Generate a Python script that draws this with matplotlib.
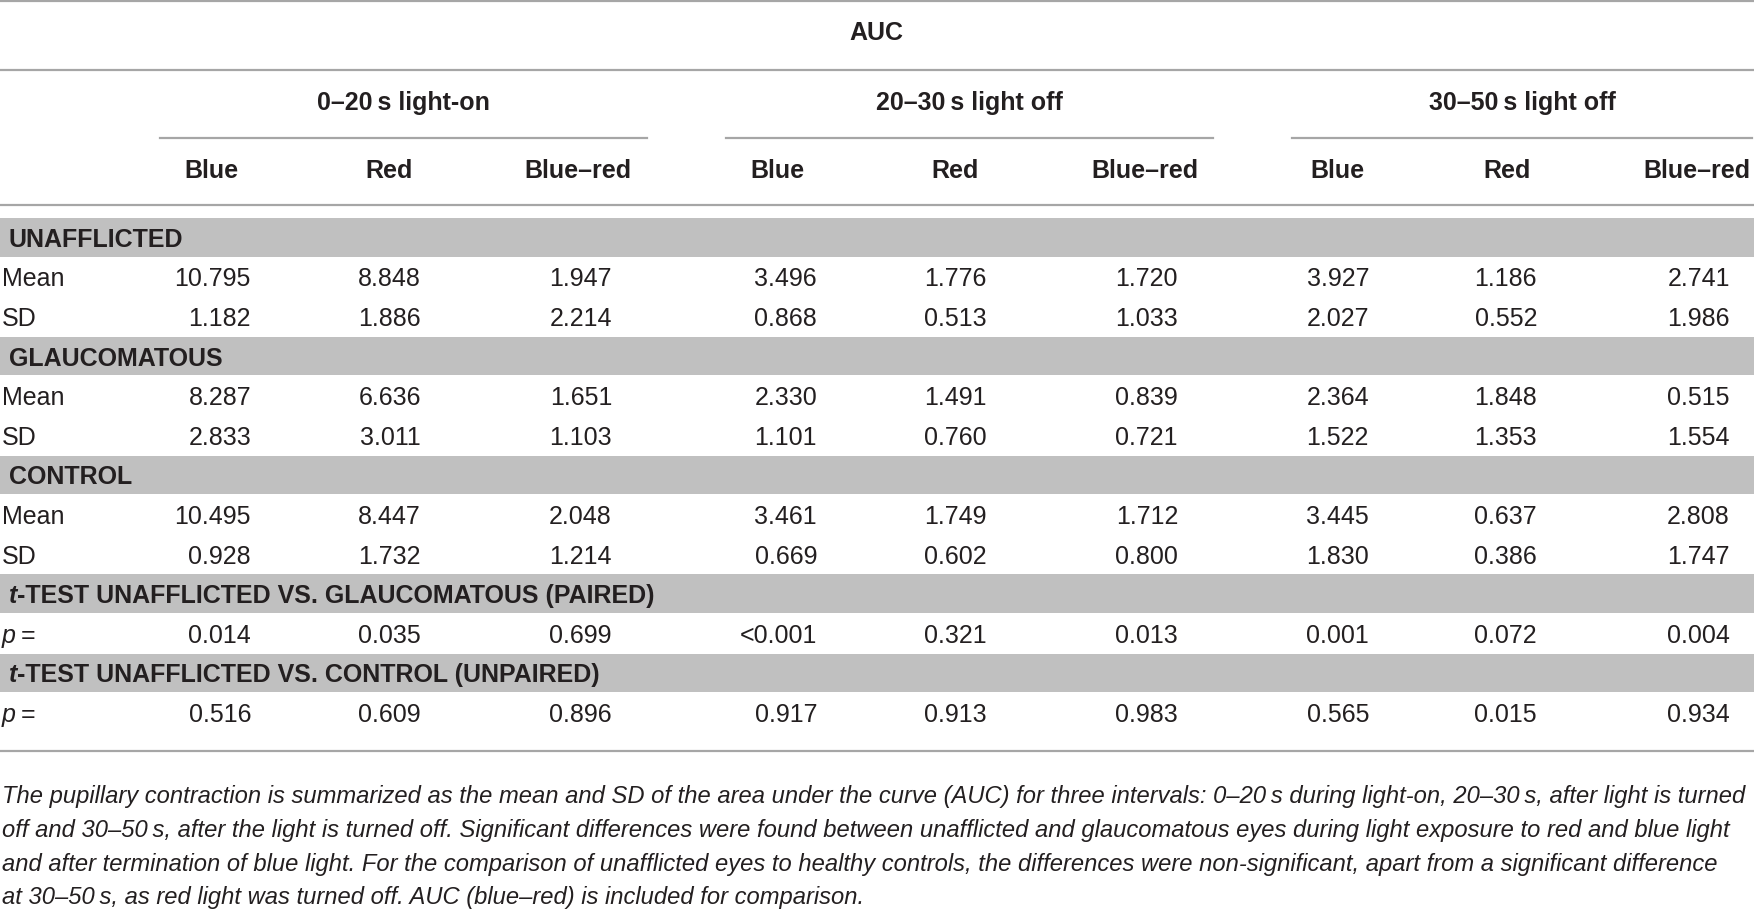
import matplotlib
matplotlib.use("Agg")
import matplotlib.pyplot as plt

plt.rcParams['font.family'] = ['Liberation Sans', 'DejaVu Sans']

# table content
title = "AUC"
intervals = ["0–20\u2009s light-on", "20–30\u2009s light off", "30–50\u2009s light off"]
colors_hdr = ["Blue", "Red", "Blue–red"]
sections = ["UNAFFLICTED", "GLAUCOMATOUS", "CONTROL",
            "t-TEST UNAFFLICTED VS. GLAUCOMATOUS (PAIRED)",
            "t-TEST UNAFFLICTED VS. CONTROL (UNPAIRED)"]

unaff_mean = ["10.795", "8.848", "1.947", "3.496", "1.776", "1.720", "3.927", "1.186", "2.741"]
unaff_sd = ["1.182", "1.886", "2.214", "0.868", "0.513", "1.033", "2.027", "0.552", "1.986"]
glauc_mean = ["8.287", "6.636", "1.651", "2.330", "1.491", "0.839", "2.364", "1.848", "0.515"]
glauc_sd = ["2.833", "3.011", "1.103", "1.101", "0.760", "0.721", "1.522", "1.353", "1.554"]
ctrl_mean = ["10.495", "8.447", "2.048", "3.461", "1.749", "1.712", "3.445", "0.637", "2.808"]
ctrl_sd = ["0.928", "1.732", "1.214", "0.669", "0.602", "0.800", "1.830", "0.386", "1.747"]
p_paired = ["0.014", "0.035", "0.699", "<0.001", "0.321", "0.013", "0.001", "0.072", "0.004"]
p_unpaired = ["0.516", "0.609", "0.896", "0.917", "0.913", "0.983", "0.565", "0.015", "0.934"]

caption = [
    "The pupillary contraction is summarized as the mean and SD of the area under the curve (AUC) for three intervals: 0–20\u2009s during light-on, 20–30\u2009s, after light is turned",
    "off and 30–50\u2009s, after the light is turned off. Significant differences were found between unafflicted and glaucomatous eyes during light exposure to red and blue light",
    "and after termination of blue light. For the comparison of unafflicted eyes to healthy controls, the differences were non-significant, apart from a significant difference",
    "at 30–50\u2009s, as red light was turned off. AUC (blue–red) is included for comparison.",
]

# rows in display order: (kind, label, values)
rows = [
    ("sec", sections[0], None), ("row", "Mean", unaff_mean), ("row", "SD", unaff_sd),
    ("sec", sections[1], None), ("row", "Mean", glauc_mean), ("row", "SD", glauc_sd),
    ("sec", sections[2], None), ("row", "Mean", ctrl_mean), ("row", "SD", ctrl_sd),
    ("sec", sections[3], None), ("p", "p", p_paired),
    ("sec", sections[4], None), ("p", "p", p_unpaired),
]

W, H = 1754, 913
FS = 18
fig = plt.figure(figsize=(W / 100, H / 100), dpi=100)
ax = fig.add_axes([0, 0, 1, 1])
ax.set_xlim(0, W)
ax.set_ylim(H, 0)
ax.axis('off')

line_c = '#a6a6a6'
band_c = '#c0c0c0'
txt_c = '#231f20'

# layout (pixels)
col_right = [251, 421, 612, 817, 987, 1178, 1369, 1537, 1730]
col_center = [211, 389, 578, 777, 955, 1145, 1337, 1507, 1697]
grp_span = [(160, 647), (726, 1213), (1292, 1752)]
row_top = 218
pitch = 39.6
dy = 2  # small nudge so text sits like the reference

ax.plot([0, W], [1, 1], color=line_c, lw=1.6)
ax.text(876, 31 + dy, title, ha='center', va='center', fontsize=FS, fontweight='bold', color=txt_c)
ax.plot([0, W], [70, 70], color=line_c, lw=1.6)
for (x0, x1), name in zip(grp_span, intervals):
    ax.text((x0 + x1) / 2, 101 + dy, name, ha='center', va='center', fontsize=FS, fontweight='bold', color=txt_c)
    ax.plot([x0, x1], [138, 138], color=line_c, lw=1.6)
for i, x in enumerate(col_center):
    ax.text(x, 169 + dy, colors_hdr[i % 3], ha='center', va='center', fontsize=FS, fontweight='bold', color=txt_c)
ax.plot([0, W], [205, 205], color=line_c, lw=1.6)

for k, (kind, label, vals) in enumerate(rows):
    y0 = row_top + k * pitch
    yc = y0 + pitch / 2 + dy
    if kind == "sec":
        ax.fill_between([0, W], y0, y0 + pitch - 1, color=band_c, lw=0)
        if label.startswith("t-"):
            t = ax.text(9, yc, "t", ha='left', va='center', fontsize=FS,
                        fontweight='bold', style='italic', color=txt_c)
            ax.annotate(label[1:], xy=(1, 0.5), xycoords=t, ha='left', va='center',
                        fontsize=FS, fontweight='bold', color=txt_c)
        else:
            ax.text(9, yc, label, ha='left', va='center', fontsize=FS, fontweight='bold', color=txt_c)
    else:
        if kind == "p":
            t = ax.text(2, yc, "p", ha='left', va='center', fontsize=FS, style='italic', color=txt_c)
            ax.annotate("\u2009=", xy=(1, 0.5), xycoords=t, ha='left', va='center',
                        fontsize=FS, color=txt_c)
        else:
            ax.text(2, yc, label, ha='left', va='center', fontsize=FS, color=txt_c)
        for x, v in zip(col_right, vals):
            ax.text(x, yc, v, ha='right', va='center', fontsize=FS, color=txt_c)

ax.plot([0, W], [751, 751], color=line_c, lw=1.6)

for i, line in enumerate(caption):
    ax.text(2, 797 + i * 33.5, line, ha='left', va='center', fontsize=17.1,
            style='italic', color=txt_c)

fig.savefig("out.png", dpi=100)
